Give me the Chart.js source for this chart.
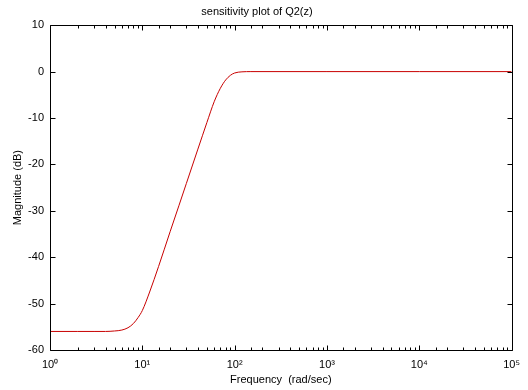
<!DOCTYPE html>
<html>
<head>
<meta charset="utf-8">
<script src="https://cdn.jsdelivr.net/npm/chart.js@4"></script>
<style>
  html, body { margin: 0; padding: 0; background: #fff; }
  #wrap { width: 528px; height: 390px; }
</style>
</head>
<body>
<div id="wrap"><canvas id="chart"></canvas></div>
<script>
// sensitivity curve (rad/sec, dB)
const freq = [1, 2, 3, 4, 5, 6, 7, 8, 9, 10, 12, 15, 20, 25, 30, 40, 50, 60, 70, 80, 90, 100, 120, 150, 1000, 10000, 100000];
const magDb = [-56, -56, -56, -56, -55.9, -55.7, -55.2, -54.3, -53, -51.5, -47.5, -42, -34.5, -28.8, -24.1, -16.7, -11, -6.5, -3.6, -1.8, -0.8, -0.3, -0.05, 0, 0, 0, 0];

const xDecades = [1, 10, 100, 1000, 10000, 100000];
const xTickLabels = ['10⁰', '10¹', '10²', '10³', '10⁴', '10⁵'];
const yTicks = [10, 0, -10, -20, -30, -40, -50, -60];

const font = { family: "'Liberation Sans', Arial, sans-serif", size: 11 };

// MATLAB style box with inward ticks on all four sides
const frameTicks = {
  id: 'frameTicks',
  afterDraw(chart) {
    const { ctx, chartArea: a, scales: { x, y } } = chart;
    const L = Math.round(a.left) + 0.5, R = Math.round(a.right) + 0.5;
    const T = Math.round(a.top) + 0.5, B = Math.round(a.bottom) + 0.5;
    ctx.save();
    ctx.strokeStyle = '#000';
    ctx.lineWidth = 1;
    ctx.beginPath();
    ctx.rect(L, T, R - L, B - T);
    x.ticks.forEach(t => {
      const px = Math.round(x.getPixelForValue(t.value)) + 0.5;
      const len = xDecades.includes(t.value) ? 5 : 3;
      ctx.moveTo(px, B); ctx.lineTo(px, B - len);
      ctx.moveTo(px, T); ctx.lineTo(px, T + len);
    });
    y.ticks.forEach(t => {
      const py = Math.round(y.getPixelForValue(t.value)) + 0.5;
      ctx.moveTo(L, py); ctx.lineTo(L + 5, py);
      ctx.moveTo(R, py); ctx.lineTo(R - 5, py);
    });
    ctx.stroke();
    ctx.restore();
  }
};

new Chart(document.getElementById('chart'), {
  type: 'line',
  data: {
    datasets: [{
      data: freq.map((f, i) => ({ x: f, y: magDb[i] })),
      borderColor: 'rgb(200,0,0)',
      borderWidth: 1,
      pointRadius: 0,
      cubicInterpolationMode: 'monotone',
      fill: false
    }]
  },
  plugins: [frameTicks],
  options: {
    responsive: true,
    maintainAspectRatio: false,
    animation: false,
    layout: { padding: { left: 0, right: 14, top: 0, bottom: 0 } },
    plugins: {
      legend: { display: false },
      tooltip: { enabled: false },
      title: {
        display: true,
        text: 'sensitivity plot of Q2(z)',
        color: '#000',
        font: { ...font, weight: 'normal' },
        padding: { top: 5, bottom: 7 }
      }
    },
    scales: {
      x: {
        type: 'logarithmic',
        min: 1,
        max: 100000,
        grid: { display: false, drawTicks: false },
        border: { display: false },
        afterFit: s => { s.height = 40; },
        ticks: {
          autoSkip: false,
          maxRotation: 0,
          color: '#000',
          font,
          padding: 8,
          callback: v => {
            const i = xDecades.indexOf(v);
            return i >= 0 ? xTickLabels[i] : '';
          }
        },
        title: {
          display: true,
          text: 'Frequency  (rad/sec)',
          color: '#000',
          font,
          padding: { top: 0, bottom: 3 }
        }
      },
      y: {
        min: -60,
        max: 10,
        grid: { display: false, drawTicks: false },
        border: { display: false },
        afterFit: s => { s.width = 50; },
        afterBuildTicks: s => { s.ticks = yTicks.map(v => ({ value: v })); },
        ticks: { color: '#000', font, padding: 6 },
        title: {
          display: true,
          text: 'Magnitude (dB)',
          color: '#000',
          font,
          padding: { top: 11, bottom: 0 }
        }
      }
    }
  }
});
</script>
</body>
</html>
